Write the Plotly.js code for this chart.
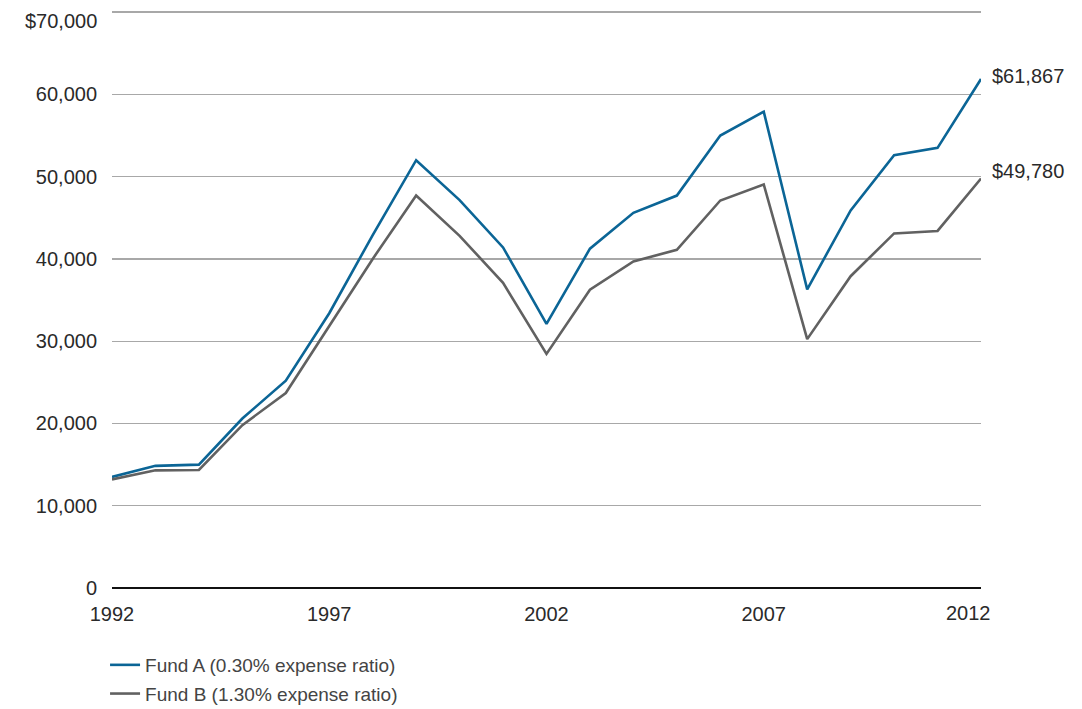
<!DOCTYPE html>
<html>
<head>
<meta charset="utf-8">
<script src="https://cdn.plot.ly/plotly-3.0.1.min.js"></script>
<style>
html,body{margin:0;padding:0;background:#fff;}
#chart{width:1082px;height:709px;}
</style>
</head>
<body>
<div id="chart"></div>
<script>
const years = [1992,1993,1994,1995,1996,1997,1998,1999,2000,2001,2002,2003,2004,2005,2006,2007,2008,2009,2010,2011,2012];
const fundA = [13500,14850,15000,20600,25200,33400,42900,52000,47150,41400,32100,41250,45600,47700,55000,57900,36300,45900,52600,53500,61867];
const fundB = [13200,14300,14350,19800,23700,31900,40000,47700,42800,37100,28450,36250,39700,41100,47100,49050,30250,37900,43100,43400,49780];
const seriesNames = ['Fund A (0.30% expense ratio)','Fund B (1.30% expense ratio)'];
const endLabels = ['$61,867','$49,780'];
const yTickVals = [0,10000,20000,30000,40000,50000,60000,70000];
const yTickText = ['0','10,000','20,000','30,000','40,000','50,000','60,000',''];
const yTopLabel = '$70,000';
const xTickVals = [1992,1997,2002,2007,2012];
const xTickText = ['1992','1997','2002','2007',''];
const xLastLabel = '2012';

const FONT = 'Liberation Sans, Arial, sans-serif';
const TXT = '#2a2a2a';
const blue = '#0b6596';
const grey = '#616161';

const traces = [
  {x: years, y: fundA, name: seriesNames[0], type: 'scatter', mode: 'lines',
   line: {color: blue, width: 2.6}, legendgroup: 'a', hoverinfo: 'skip'},
  {x: years, y: fundB, name: seriesNames[1], type: 'scatter', mode: 'lines',
   line: {color: grey, width: 2.6}, legendgroup: 'b', hoverinfo: 'skip'}
];

const layout = {
  width: 1082, height: 709,
  margin: {l: 112, r: 101, t: 8, b: 121, autoexpand: false},
  paper_bgcolor: '#fff', plot_bgcolor: '#fff',
  font: {family: FONT, size: 19, color: TXT},
  showlegend: true,
  legend: {x: -0.008, xanchor: 'left', y: -0.1, yanchor: 'top', orientation: 'v',
           font: {family: FONT, size: 19, color: '#444'}, tracegroupgap: 1,
           bgcolor: 'rgba(0,0,0,0)'},
  xaxis: {range: [1992, 2012], tickvals: xTickVals, ticktext: xTickText,
          showgrid: false, zeroline: false, showline: false, ticks: '',
          tickfont: {family: FONT, size: 20, color: TXT}, ticklabelstandoff: 12,
          fixedrange: true},
  yaxis: {range: [0, 70500], tickvals: yTickVals, ticktext: yTickText,
          showgrid: true, gridcolor: '#a8a8a8', gridwidth: 1.3,
          zeroline: true, zerolinecolor: '#111', zerolinewidth: 1.6,
          showline: false, ticks: '', ticklabelstandoff: 14,
          tickfont: {family: FONT, size: 20, color: TXT}, fixedrange: true},
  annotations: [
    {x: 2012, y: fundA[fundA.length-1], xref: 'x', yref: 'y', text: endLabels[0],
     showarrow: false, xanchor: 'left', xshift: 9, yshift: 3,
     font: {family: FONT, size: 20, color: TXT}},
    {x: 2012, y: fundB[fundB.length-1], xref: 'x', yref: 'y', text: endLabels[1],
     showarrow: false, xanchor: 'left', xshift: 9, yshift: 7,
     font: {family: FONT, size: 20, color: TXT}},
    {x: 0, xref: 'paper', y: yTickVals[yTickVals.length-1], yref: 'y', text: yTopLabel,
     showarrow: false, xanchor: 'right', yanchor: 'middle', xshift: -13, yshift: -9,
     font: {family: FONT, size: 20, color: TXT}},
    {x: xTickVals[xTickVals.length-1], xref: 'x', y: 0, yref: 'paper', text: xLastLabel,
     showarrow: false, xanchor: 'center', yanchor: 'top', xshift: -13, yshift: -12,
     font: {family: FONT, size: 20, color: TXT}}
  ]
};

Plotly.newPlot('chart', traces, layout, {displayModeBar: false, staticPlot: true});
</script>
</body>
</html>
